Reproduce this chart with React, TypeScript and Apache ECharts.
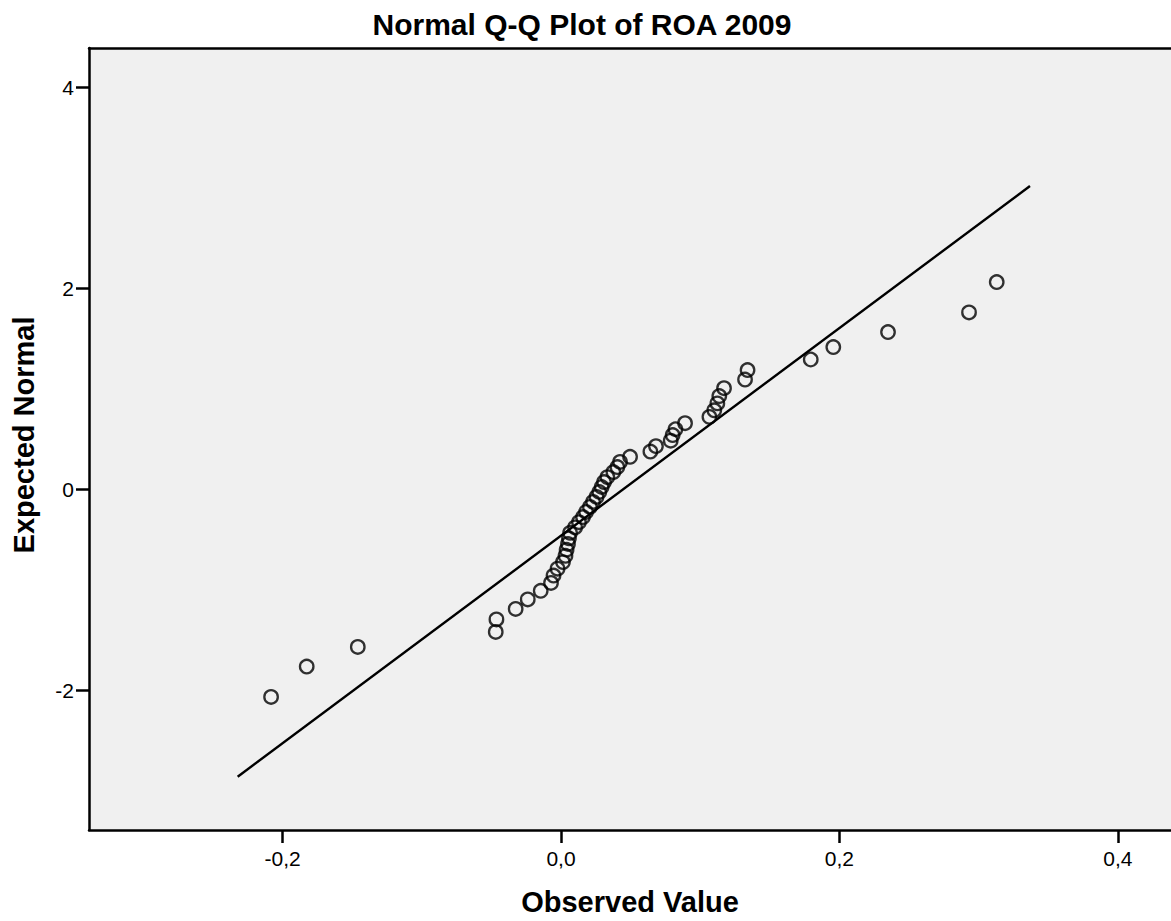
import React, { useEffect, useRef } from "react";
import * as echarts from "echarts";

// Observed values (ROA 2009), sorted
const observed: number[] = [
  -0.2083, -0.1827, -0.146, -0.0469, -0.0464, -0.0326, -0.0239, -0.0146, -0.0072, -0.0054,
  -0.0025, 0.0014, 0.0032, 0.004, 0.005, 0.0057, 0.0065, 0.0101, 0.0129, 0.0158,
  0.018, 0.0208, 0.023, 0.0255, 0.0275, 0.0292, 0.0309, 0.0333, 0.0376, 0.0405,
  0.0424, 0.0496, 0.0642, 0.0682, 0.0788, 0.0802, 0.0822, 0.0891, 0.1066, 0.1101,
  0.1123, 0.1137, 0.1171, 0.1322, 0.134, 0.1794, 0.1956, 0.2349, 0.2931, 0.313,
];

// Expected normal values
const expected: number[] = [
  -2.062, -1.76, -1.565, -1.416, -1.292, -1.187, -1.093, -1.007, -0.929, -0.856,
  -0.787, -0.722, -0.659, -0.599, -0.541, -0.485, -0.431, -0.377, -0.325, -0.274,
  -0.223, -0.173, -0.123, -0.074, -0.025, 0.025, 0.074, 0.123, 0.173, 0.223,
  0.274, 0.325, 0.377, 0.431, 0.485, 0.541, 0.599, 0.659, 0.722, 0.787,
  0.856, 0.929, 1.007, 1.093, 1.187, 1.292, 1.416, 1.565, 1.76, 2.062,
];

// Reference line endpoints
const lineX: number[] = [-0.2323, 0.3369];
const lineY: number[] = [-2.855, 3.017];

const xTicks: number[] = [-0.2, 0, 0.2, 0.4];
const yTicks: number[] = [-2, 0, 2, 4];

const FONT = "Liberation Sans, Arial, sans-serif";

export default function App() {
  const ref = useRef<HTMLDivElement>(null);
  useEffect(() => {
    if (!ref.current) return;
    const chart = echarts.init(ref.current, null, { renderer: "svg" });
    const points = observed.map((v, i) => [v, expected[i]]);
    const linePts = lineX.map((v, i) => [v, lineY[i]]);
    chart.setOption({
      animation: false,
      backgroundColor: "#ffffff",
      grid: {
        left: 89,
        top: 48,
        right: 0,
        bottom: 91,
        show: true,
        backgroundColor: "#f0f0f0",
        borderWidth: 0,
      },
      xAxis: [
        {
          type: "value",
          min: -0.3391,
          max: 0.4382,
          position: "bottom",
          splitLine: { show: false },
          axisLine: { show: true, onZero: false, lineStyle: { color: "#000", width: 2.5 } },
          axisTick: {
            show: true,
            customValues: xTicks,
            length: 13,
            lineStyle: { color: "#000", width: 2.5 },
          },
          axisLabel: {
            customValues: xTicks,
            margin: 18,
            color: "#000",
            fontFamily: FONT,
            fontSize: 21,
            formatter: (v: number) => v.toFixed(1).replace(".", ","),
          },
        },
        {
          type: "value",
          min: -0.3391,
          max: 0.4382,
          position: "top",
          splitLine: { show: false },
          axisLine: { show: true, onZero: false, lineStyle: { color: "#000", width: 2.5 } },
          axisTick: { show: false },
          axisLabel: { show: false },
        },
      ],
      yAxis: {
        type: "value",
        min: -3.385,
        max: 4.389,
        splitLine: { show: false },
        axisLine: { show: true, onZero: false, lineStyle: { color: "#000", width: 2.5 } },
        axisTick: {
          show: true,
          customValues: yTicks,
          length: 13,
          lineStyle: { color: "#000", width: 2.5 },
        },
        axisLabel: {
          customValues: yTicks,
          margin: 15,
          color: "#000",
          fontFamily: FONT,
          fontSize: 21,
          formatter: (v: number) => String(v),
        },
      },
      graphic: [
        {
          type: "text",
          x: 582,
          y: 24,
          style: {
            text: "Normal Q-Q Plot of ROA 2009",
            fontFamily: FONT,
            fontWeight: "bold",
            fontSize: 30,
            fill: "#000",
            align: "center",
            verticalAlign: "middle",
          },
        },
        {
          type: "text",
          x: 630,
          y: 902,
          style: {
            text: "Observed Value",
            fontFamily: FONT,
            fontWeight: "bold",
            fontSize: 29,
            fill: "#000",
            align: "center",
            verticalAlign: "middle",
          },
        },
        {
          type: "text",
          x: 24,
          y: 435,
          rotation: Math.PI / 2,
          style: {
            text: "Expected Normal",
            fontFamily: FONT,
            fontWeight: "bold",
            fontSize: 29,
            fill: "#000",
            align: "center",
            verticalAlign: "middle",
          },
        },
      ],
      series: [
        {
          type: "line",
          data: linePts,
          xAxisIndex: 0,
          symbol: "none",
          lineStyle: { color: "#000", width: 2.4 },
          z: 2,
        },
        {
          type: "scatter",
          data: points,
          xAxisIndex: 0,
          symbol: "circle",
          symbolSize: 13.5,
          itemStyle: { color: "rgba(0,0,0,0)", borderColor: "#000", borderWidth: 2.3 },
          z: 3,
        },
      ],
    });
    return () => chart.dispose();
  }, []);
  return (
    <div
      ref={ref}
      style={{ position: "absolute", left: 0, top: 0, width: 1171, height: 921 }}
    />
  );
}
